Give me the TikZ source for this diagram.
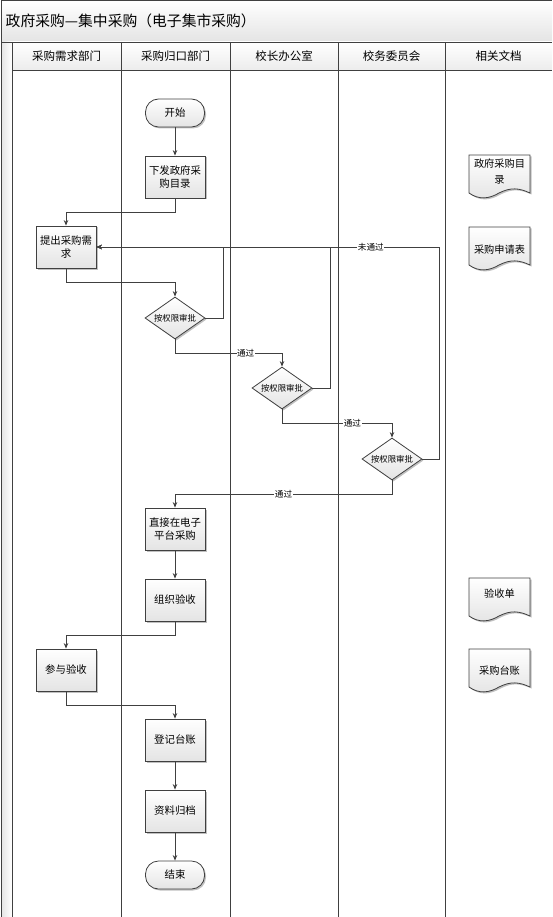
\documentclass[tikz,border=0pt]{standalone}
\usepackage{fontspec}
\setmainfont{Noto Sans CJK SC}
\usetikzlibrary{arrows.meta, shapes.geometric, shadows}
\definecolor{cline}{HTML}{404040}
\definecolor{cfill}{HTML}{E4E4E4}
\definecolor{cshade}{HTML}{B0B0B0}
\tikzset{
  every picture/.style={line width=0.8pt},
  boxshadow/.style={drop shadow={shadow xshift=1.5pt, shadow yshift=-1.5pt, fill=cshade, opacity=0.8}},
  proc/.style={draw=cline, top color=white, bottom color=cfill, boxshadow, minimum width=60pt, minimum height=42pt, inner sep=2pt, align=center, font=\fontsize{10.4}{13}\selectfont},
  term/.style={proc, minimum width=59pt, minimum height=28pt, rounded corners=13pt},
  judge/.style={diamond, draw=cline, top color=white, bottom color=cfill, boxshadow, minimum width=60pt, minimum height=42pt, inner sep=0pt, aspect=1.43, font=\fontsize{8.4}{10}\selectfont},
  flow/.style={draw=cline, -{Stealth[length=5.5pt, width=4.5pt]}},
  lbl/.style={fill=white, inner sep=0.5pt, font=\fontsize{8.6}{10}\selectfont},
  lane/.style={draw=cline},
  lanehead/.style={font=\fontsize{11.5}{13}\selectfont},
  doctext/.style={align=center, font=\fontsize{10.2}{16}\selectfont},
}
% document sheet with wavy bottom: name, left x, top y, text y, text
\newcommand{\docsheet}[5]{%
  \begin{scope}[shift={(#2,#3)}]
    \draw[draw=cline, top color=white, bottom color=cfill, boxshadow]
      (0,0) -- (61,0) -- (61,38) .. controls (50,33) and (42,32) .. (30,38)
      .. controls (20,44) and (10,45) .. (0,38) -- cycle;
    \node[doctext] (#1) at (30.5,#4) {#5};
  \end{scope}}

\begin{document}
\begin{tikzpicture}[x=1pt, y=-1pt]
  \useasboundingbox (0,0) rectangle (552,917);
  % pool frame
  \shade[top color=white, bottom color=cfill] (1,0) rectangle (552,42);
  \shade[top color=white, bottom color=cfill!70] (12,42) rectangle (552,70);
  \shade[left color=cfill, right color=white] (1,42) rectangle (12,917);
  \draw[lane] (1,917) -- (1,0) -- (552,0);
  \draw[lane] (1,42) -- (552,42);
  \draw[lane] (12,70) -- (552,70);
  \foreach \x in {12,121,230,338,445} \draw[lane] (\x,42) -- (\x,917);
  \node[anchor=west, font=\fontsize{14.8}{16}\selectfont] (title) at (2,21) {政府采购—集中采购（电子集市采购）};
  \node[lanehead] (h1) at (66.5,56) {采购需求部门};
  \node[lanehead] (h2) at (175.5,56) {采购归口部门};
  \node[lanehead] (h3) at (284,56) {校长办公室};
  \node[lanehead] (h4) at (391.5,56) {校务委员会};
  \node[lanehead] (h5) at (498.5,56) {相关文档};
  % flow steps
  \node[term] (start) at (175,113) {开始};
  \node[proc] (xiafa) at (175,177) {下发政府采\\购目录};
  \node[proc] (tichu) at (66,247) {提出采购需\\求};
  \node[judge] (sp1) at (175,318) {按权限审批};
  \node[judge] (sp2) at (282,388) {按权限审批};
  \node[judge] (sp3) at (392,459) {按权限审批};
  \node[proc] (zhijie) at (175,529) {直接在电子\\平台采购};
  \node[proc] (zuzhi) at (175,600) {组织验收};
  \node[proc] (canyu) at (66,670) {参与验收};
  \node[proc] (dengji) at (175,740) {登记台账};
  \node[proc] (ziliao) at (175,811) {资料归档};
  \node[term] (finish) at (175,875) {结束};
  % documents
  \docsheet{doc1}{469}{155}{17}{政府采购目\\录}
  \docsheet{doc2}{469}{227}{23}{采购申请表}
  \docsheet{doc3}{469}{578}{16}{验收单}
  \docsheet{doc4}{469}{649}{22}{采购台账}
  % connectors
  \draw[flow] (start) -- (xiafa);
  \draw[flow] (xiafa.south) -- ++(0,14) -| (tichu.north);
  \draw[flow] (tichu.south) -- ++(0,14) -| (sp1.north);
  \draw[flow] (sp1.east) -- ++(18,0) |- (tichu.east);
  \draw[flow] (sp2.east) -- ++(18,0) |- (tichu.east);
  \draw[flow] (sp3.east) -- ++(17,0) |- node[lbl, pos=0.6] {未通过} (tichu.east);
  \draw[flow] (sp1.south) -- ++(0,14) -| node[lbl, pos=0.33] {通过} (sp2.north);
  \draw[flow] (sp2.south) -- ++(0,14) -| node[lbl, pos=0.32] {通过} (sp3.north);
  \draw[flow] (sp3.south) -- ++(0,14) -| node[lbl, pos=0.25] {通过} (zhijie.north);
  \draw[flow] (zhijie) -- (zuzhi);
  \draw[flow] (zuzhi.south) -- ++(0,14) -| (canyu.north);
  \draw[flow] (canyu.south) -- ++(0,14) -| (dengji.north);
  \draw[flow] (dengji) -- (ziliao);
  \draw[flow] (ziliao) -- (finish);
\end{tikzpicture}
\end{document}
